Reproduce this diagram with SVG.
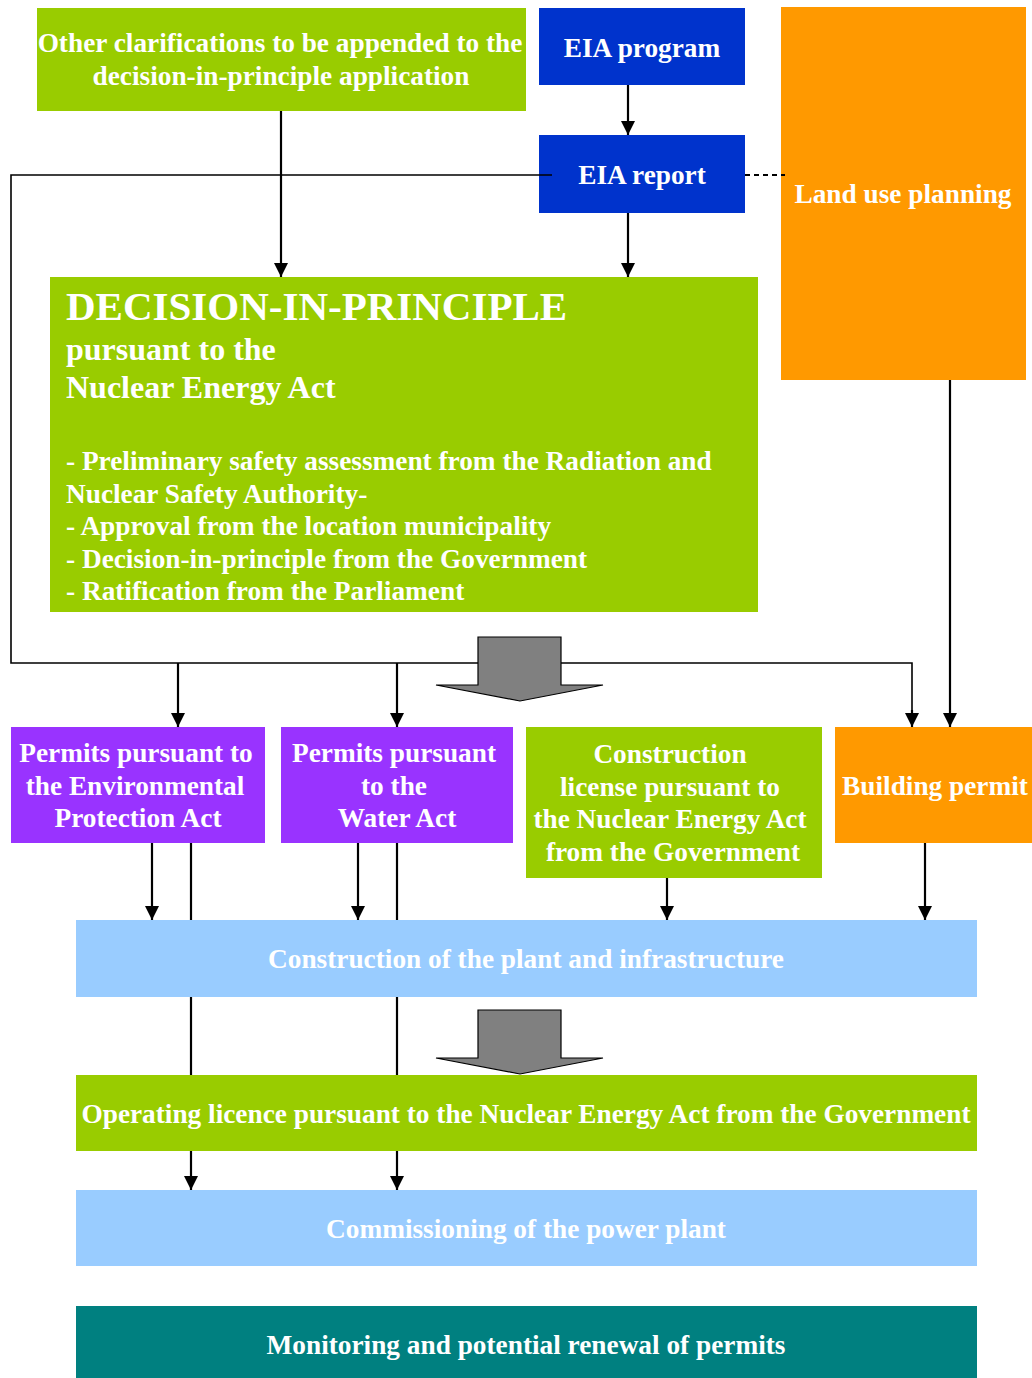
<svg xmlns="http://www.w3.org/2000/svg" width="1032" height="1378" viewBox="0 0 1032 1378">
<defs>
<marker id="ah" markerWidth="14" markerHeight="14" refX="14" refY="7" orient="auto" markerUnits="userSpaceOnUse" viewBox="0 0 14 14">
<path d="M0,0 L14,7 L0,14 Z" fill="#000"/>
</marker>
</defs>
<style>
text{font-family:"Liberation Serif","Times New Roman",serif;font-weight:bold;fill:#fff;font-size:27.3px}
.c{text-anchor:middle}
.g{fill:#99CC00}
.b{fill:#0033CC}
.o{fill:#FF9900}
.p{fill:#9933FF}
.l{fill:#99CCFF}
.t{fill:#008080}
.ln{stroke:#000;stroke-width:2.2;fill:none}
.la{stroke:#000;stroke-width:2.2;fill:none;marker-end:url(#ah)}
.big{fill:#808080;stroke:#000;stroke-width:1.2}
</style>
<rect width="1032" height="1378" fill="#fff"/>

<g id="other">
<rect class="g" x="37" y="8" width="489" height="103"/>
<text class="c" x="280" y="52">Other clarifications to be appended to the</text>
<text class="c" x="281" y="85">decision-in-principle application</text>
</g>
<g id="eia-program">
<rect class="b" x="539" y="8" width="206" height="77"/>
<text class="c" x="642" y="57">EIA program</text>
</g>
<g id="eia-report">
<rect class="b" x="539" y="135" width="206" height="78"/>
<text class="c" x="642" y="184">EIA report</text>
</g>
<g id="land-use">
<rect class="o" x="781" y="7" width="245" height="373"/>
<text class="c" x="903" y="203">Land use planning</text>
</g>
<g id="dip">
<rect class="g" x="50" y="277" width="708" height="335"/>
<text x="66" y="320" style="font-size:41px">DECISION-IN-PRINCIPLE</text>
<text x="66" y="360" style="font-size:32px">pursuant to the</text>
<text x="66" y="398" style="font-size:32px">Nuclear Energy Act</text>
<text x="66" y="470">- Preliminary safety assessment from the Radiation and</text>
<text x="66" y="503">Nuclear Safety Authority-</text>
<text x="66" y="535">- Approval from the location municipality</text>
<text x="66" y="568">- Decision-in-principle from the Government</text>
<text x="66" y="600">- Ratification from the Parliament</text>
</g>
<g id="epa">
<rect class="p" x="11" y="727" width="254" height="116"/>
<text class="c" x="136" y="762">Permits pursuant to</text>
<text class="c" x="135" y="795">the Environmental</text>
<text class="c" x="138" y="827">Protection Act</text>
</g>
<g id="water">
<rect class="p" x="281" y="727" width="232" height="116"/>
<text class="c" x="394" y="762">Permits pursuant</text>
<text class="c" x="394" y="795">to the</text>
<text class="c" x="397" y="827">Water Act</text>
</g>
<g id="construction-license">
<rect class="g" x="526" y="727" width="296" height="151"/>
<text class="c" x="670" y="763">Construction</text>
<text class="c" x="670" y="796">license pursuant to</text>
<text class="c" x="670" y="828">the Nuclear Energy Act</text>
<text class="c" x="673" y="861">from the Government</text>
</g>
<g id="building-permit">
<rect class="o" x="835" y="727" width="197" height="116"/>
<text class="c" x="935" y="795">Building permit</text>
</g>
<g id="construction">
<rect class="l" x="76" y="920" width="901" height="77"/>
<text class="c" x="526" y="968">Construction of the plant and infrastructure</text>
</g>
<g id="operating">
<rect class="g" x="76" y="1075" width="901" height="76"/>
<text class="c" x="526" y="1123">Operating licence pursuant to the Nuclear Energy Act from the Government</text>
</g>
<g id="commissioning">
<rect class="l" x="76" y="1190" width="901" height="76"/>
<text class="c" x="526" y="1238">Commissioning of the power plant</text>
</g>
<g id="monitoring">
<rect class="t" x="76" y="1306" width="901" height="72"/>
<text class="c" x="526" y="1354">Monitoring and potential renewal of permits</text>
</g>

<g id="connectors">
<line class="la" x1="281" y1="111" x2="281" y2="277"/>
<line class="la" x1="628" y1="85" x2="628" y2="135"/>
<line class="la" x1="628" y1="213" x2="628" y2="277"/>
<line x1="745" y1="175" x2="785" y2="175" stroke="#000" stroke-width="2" stroke-dasharray="5,4"/>
<polyline class="ln" style="stroke-width:1.6" points="552,175 11,175 11,663 912,663 912,714"/>
<line class="la" x1="912" y1="710" x2="912" y2="727"/>
<line class="la" x1="178" y1="663" x2="178" y2="727"/>
<line class="la" x1="397" y1="663" x2="397" y2="727"/>
<line class="la" x1="950" y1="380" x2="950" y2="727"/>
<line class="la" x1="152" y1="843" x2="152" y2="920"/>
<line class="la" x1="358" y1="843" x2="358" y2="920"/>
<line class="la" x1="667" y1="878" x2="667" y2="920"/>
<line class="la" x1="925" y1="843" x2="925" y2="920"/>
<line class="ln" x1="191" y1="843" x2="191" y2="920"/>
<line class="ln" x1="397" y1="843" x2="397" y2="920"/>
<line class="ln" x1="191" y1="997" x2="191" y2="1075"/>
<line class="ln" x1="397" y1="997" x2="397" y2="1075"/>
<line class="la" x1="191" y1="1151" x2="191" y2="1190"/>
<line class="la" x1="397" y1="1151" x2="397" y2="1190"/>
<polygon class="big" points="478,637 561,637 561,685 603,685 520,701 436,685 478,685"/>
<polygon class="big" points="478,1010 561,1010 561,1058 603,1058 520,1074 436,1058 478,1058"/>
</g>
</svg>
